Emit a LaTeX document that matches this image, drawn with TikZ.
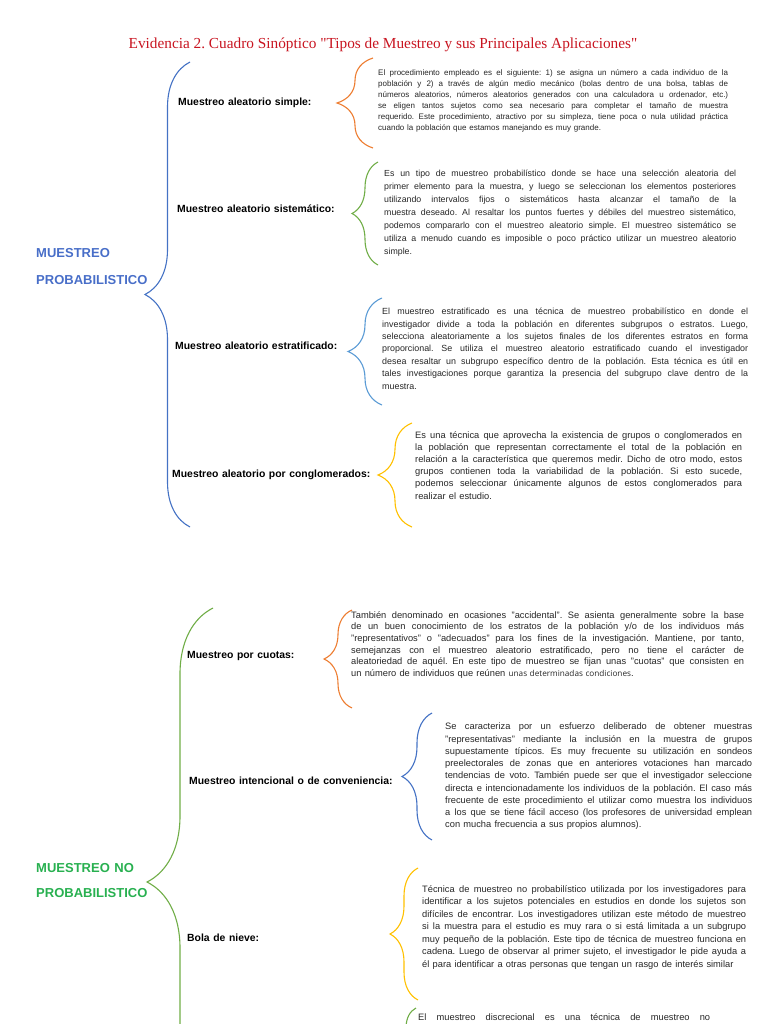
\documentclass[tikz,border=0pt]{standalone}
\usepackage{fontspec}
\setmainfont{Liberation Sans}[WordSpace={1.25,1.2,0}]
\newfontfamily\titlefont{Liberation Serif}
\newfontfamily\opensans{Open Sans}[WordSpace={1.2,1.2,0}]
\usetikzlibrary{decorations.pathreplacing}
\definecolor{titlered}{RGB}{200,20,32}
\definecolor{wblue}{RGB}{68,114,196}
\definecolor{lblue}{RGB}{91,155,213}
\definecolor{worange}{RGB}{237,125,49}
\definecolor{wgreen}{RGB}{112,173,71}
\definecolor{wyellow}{RGB}{255,192,0}
\definecolor{artblue}{RGB}{72,110,200}
\definecolor{artgreen}{RGB}{40,176,80}
\hyphenpenalty=10000
\exhyphenpenalty=10000
\tolerance=9999
\frenchspacing

\begin{document}
\begin{tikzpicture}[
    x=1pt, y=-1pt,
    curly/.style={decorate, decoration={brace, amplitude=#1}, line width=1.1pt},
    curly/.default=30,
    lbl/.style={anchor=west, inner sep=0pt, font=\fontsize{10.4pt}{12pt}\selectfont\bfseries},
    cat/.style={anchor=west, inner sep=0pt, font=\fontsize{13pt}{15pt}\selectfont\bfseries},
    desc/.style={anchor=north west, inner sep=0pt, align=justify, text=black!85},
]
\useasboundingbox (0,0) rectangle (768,1024);
\clip (0,0) rectangle (768,1024);
\node[font=\titlefont\fontsize{15.3pt}{17pt}\selectfont, text=titlered] (title) at (383,45)
  {Evidencia 2. Cuadro Sinóptico "Tipos de Muestreo y sus Principales Aplicaciones"};

% muestreo probabilistico
\node[cat, text=artblue] (probA) at (36,253) {MUESTREO};
\node[cat, text=artblue] (probB) at (36,280) {PROBABILISTICO};
\draw[curly=45, wblue] (190,527) -- (190,62);

\node[lbl] (simplelbl) at (178,103) {Muestreo aleatorio simple:};
\draw[curly=36, worange] (373,148) -- (373,58);
\node[desc, text width=350pt, font=\fontsize{8pt}{11pt}\selectfont] (simpletxt) at (378,69)
  {El procedimiento empleado es el siguiente: 1) se asigna un número a cada individuo de la\linebreak
  población y 2) a través de algún medio mecánico (bolas dentro de una bolsa, tablas de\linebreak
  números aleatorios, números aleatorios generados con una calculadora u ordenador, etc.)\linebreak
  se eligen tantos sujetos como sea necesario para completar el tamaño de muestra\linebreak
  requerido. Este procedimiento, atractivo por su simpleza, tiene poca o nula utilidad práctica\linebreak
  cuando la población que estamos manejando es muy grande.};

\node[lbl] (sistlbl) at (177,209) {Muestreo aleatorio sistemático:};
\draw[curly=26, wgreen] (378,265) -- (378,162);
\node[desc, text width=352pt, font=\fontsize{8.8pt}{13pt}\selectfont] (sisttxt) at (384,170)
  {Es un tipo de muestreo probabilístico donde se hace una selección aleatoria del\linebreak
  primer elemento para la muestra, y luego se seleccionan los elementos posteriores\linebreak
  utilizando intervalos fijos o sistemáticos hasta alcanzar el tamaño de la\linebreak
  muestra deseado. Al resaltar los puntos fuertes y débiles del muestreo sistemático,\linebreak
  podemos compararlo con el muestreo aleatorio simple. El muestreo sistemático se\linebreak
  utiliza a menudo cuando es imposible o poco práctico utilizar un muestreo aleatorio\linebreak
  simple.};

\node[lbl] (estrlbl) at (175,346) {Muestreo aleatorio estratificado:};
\draw[curly=34, lblue] (382,405) -- (382,298);
\node[desc, text width=366pt, font=\fontsize{8.9pt}{12.4pt}\selectfont] (estrtxt) at (382,308)
  {El muestreo estratificado es una técnica de muestreo probabilístico en donde el\linebreak
  investigador divide a toda la población en diferentes subgrupos o estratos. Luego,\linebreak
  selecciona aleatoriamente a los sujetos finales de los diferentes estratos en forma\linebreak
  proporcional. Se utiliza el muestreo aleatorio estratificado cuando el investigador\linebreak
  desea resaltar un subgrupo específico dentro de la población. Esta técnica es útil en\linebreak
  tales investigaciones porque garantiza la presencia del subgrupo clave dentro de la\linebreak
  muestra.};

\node[lbl] (conglbl) at (172,475) {Muestreo aleatorio por conglomerados:};
\draw[curly=34, wyellow] (412,527) -- (412,423);
\node[desc, text width=327pt, font=\fontsize{9.3pt}{12.2pt}\selectfont] (congtxt) at (415,431)
  {Es una técnica que aprovecha la existencia de grupos o conglomerados en\linebreak
  la población que representan correctamente el total de la población en\linebreak
  relación a la característica que queremos medir. Dicho de otro modo, estos\linebreak
  grupos contienen toda la variabilidad de la población. Si esto sucede,\linebreak
  podemos seleccionar únicamente algunos de estos conglomerados para\linebreak
  realizar el estudio.};

% muestreo no probabilistico
\node[cat, text=artgreen] (noprobA) at (36,868) {MUESTREO NO};
\node[cat, text=artgreen] (noprobB) at (36,893) {PROBABILISTICO};
\draw[curly=66, wgreen] (213,1156) -- (213,608);

\node[lbl] (cuotlbl) at (187,656) {Muestreo por cuotas:};
\draw[curly=28, worange] (352,708) -- (352,610);
\node[desc, text width=393pt, font=\fontsize{9.3pt}{11.7pt}\selectfont] (cuottxt) at (351,611)
  {También denominado en ocasiones "accidental". Se asienta generalmente sobre la base\linebreak
  de un buen conocimiento de los estratos de la población y/o de los individuos más\linebreak
  "representativos" o "adecuados" para los fines de la investigación. Mantiene, por tanto,\linebreak
  semejanzas con el muestreo aleatorio estratificado, pero no tiene el carácter de\linebreak
  aleatoriedad de aquél. En este tipo de muestreo se fijan unas "cuotas" que consisten en\linebreak
  un número de individuos que reúnen {\opensans\fontsize{8.2pt}{11.7pt}\selectfont unas determinadas condiciones}.};

\node[lbl] (intlbl) at (189,781) {Muestreo intencional o de conveniencia:};
\draw[curly=30, wblue] (432,840) -- (432,713);
\node[desc, text width=307pt, font=\fontsize{9.3pt}{12.25pt}\selectfont] (inttxt) at (445,723)
  {Se caracteriza por un esfuerzo deliberado de obtener muestras\linebreak
  "representativas" mediante la inclusión en la muestra de grupos\linebreak
  supuestamente típicos. Es muy frecuente su utilización en sondeos\linebreak
  preelectorales de zonas que en anteriores votaciones han marcado\linebreak
  tendencias de voto. También puede ser que el investigador seleccione\linebreak
  directa e intencionadamente los individuos de la población. El caso más\linebreak
  frecuente de este procedimiento el utilizar como muestra los individuos\linebreak
  a los que se tiene fácil acceso (los profesores de universidad emplean\linebreak
  con mucha frecuencia a sus propios alumnos).};

\node[lbl] (bolalbl) at (187,938) {Bola de nieve:};
\draw[curly=28, wyellow] (418,1000) -- (418,868);
\node[desc, text width=324pt, font=\fontsize{9.3pt}{12.5pt}\selectfont] (bolatxt) at (422,885)
  {Técnica de muestreo no probabilístico utilizada por los investigadores para\linebreak
  identificar a los sujetos potenciales en estudios en donde los sujetos son\linebreak
  difíciles de encontrar. Los investigadores utilizan este método de muestreo\linebreak
  si la muestra para el estudio es muy rara o si está limitada a un subgrupo\linebreak
  muy pequeño de la población. Este tipo de técnica de muestreo funciona en\linebreak
  cadena. Luego de observar al primer sujeto, el investigador le pide ayuda a\linebreak
  él para identificar a otras personas que tengan un rasgo de interés similar};

\draw[curly=20, wgreen] (416,1150) -- (416,1008);
\node[anchor=west, inner sep=0pt, text=black!85, font=\fontsize{9.3pt}{12.5pt}\selectfont] (discrtxt) at (418,1017)
  {\makebox[292pt][s]{El muestreo discrecional es una técnica de muestreo no}};
\end{tikzpicture}
\end{document}
